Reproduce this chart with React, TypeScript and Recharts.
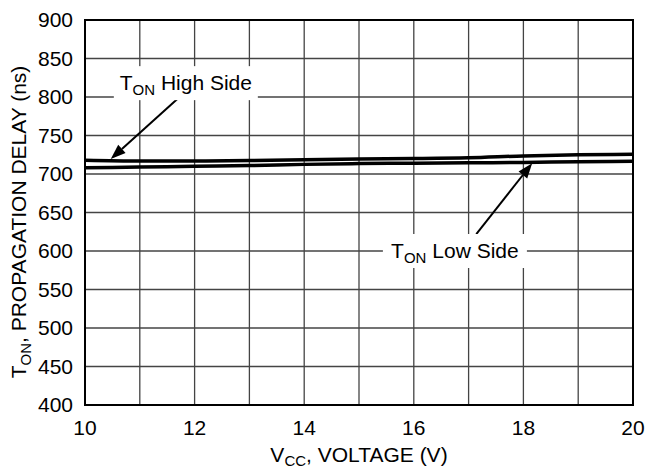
import { CartesianGrid, Line, LineChart, ReferenceArea, ReferenceDot, ReferenceLine, XAxis, YAxis } from "recharts";

const voltage = [10, 11, 12, 13, 14, 15, 16, 17, 18, 19, 20];
const highSide = [718, 717, 717, 717.5, 718.5, 719.5, 720, 721, 723.5, 725, 725.5];
const lowSide = [708, 709, 710, 711, 712.5, 713.5, 714, 714.5, 715, 716, 716.5];
const xTicks = [10, 11, 12, 13, 14, 15, 16, 17, 18, 19, 20];
const yTicks = [400, 450, 500, 550, 600, 650, 700, 750, 800, 850, 900];

const FONT = "'Liberation Sans', Arial, Helvetica, sans-serif";

const data = voltage.map((v, i) => ({ v, high: highSide[i], low: lowSide[i] }));

function Arrow(props: any) {
  const { x1, y1, x2, y2 } = props;
  const ang = Math.atan2(y2 - y1, x2 - x1);
  const len = 15;
  const half = 5.5;
  const bx = x2 - len * Math.cos(ang);
  const by = y2 - len * Math.sin(ang);
  const px = -Math.sin(ang) * half;
  const py = Math.cos(ang) * half;
  return (
    <g>
      <line x1={x1} y1={y1} x2={bx} y2={by} stroke="#000" strokeWidth={2} />
      <polygon points={`${x2},${y2} ${bx + px},${by + py} ${bx - px},${by - py}`} fill="#000" />
    </g>
  );
}

function boxLabel(rest: string, w: number) {
  return (props: any) => {
    const { cx, cy } = props;
    return (
      <g>
        <rect x={cx - w / 2} y={cy - 17} width={w} height={34} fill="#fff" />
        <text x={cx} y={cy + 7} textAnchor="middle" fontFamily={FONT} fontSize={21} fill="#000">
          <tspan>T</tspan>
          <tspan fontSize={15} dy={5}>ON</tspan>
          <tspan dy={-5}>{rest}</tspan>
        </text>
      </g>
    );
  };
}

export default function App() {
  return (
    <div style={{ position: "absolute", left: 0, top: 0 }}>
      <LineChart
        width={648}
        height={471}
        data={data}
        margin={{ top: 20, right: 15, left: 0, bottom: 0 }}
      >
        <CartesianGrid stroke="#444" strokeWidth={1.3} />
        <XAxis
          dataKey="v"
          type="number"
          domain={[10, 20]}
          ticks={xTicks}
          tickFormatter={(v) => (v % 2 === 0 ? String(v) : "")}
          height={66}
          tickSize={0}
          tickMargin={15}
          axisLine={{ stroke: "#000", strokeWidth: 2 }}
          tick={{ fill: "#000", fontSize: 21, fontFamily: FONT }}
          label={{
            content: (p: any) => {
              const vb = p.viewBox;
              return (
                <text x={vb.x + vb.width / 2} y={vb.y + 57} textAnchor="middle" fontFamily={FONT} fontSize={21} fill="#000">
                  <tspan>V</tspan>
                  <tspan fontSize={15} dy={4}>CC</tspan>
                  <tspan dy={-4}>, VOLTAGE (V)</tspan>
                </text>
              );
            },
          }}
        />
        <YAxis
          type="number"
          domain={[400, 900]}
          ticks={yTicks}
          width={85}
          tickSize={0}
          tickMargin={12}
          axisLine={{ stroke: "#000", strokeWidth: 2 }}
          tick={{ fill: "#000", fontSize: 21, fontFamily: FONT }}
          label={{
            content: () => (
              <text
                x={26}
                y={222}
                transform="rotate(-90 26 222)"
                textAnchor="middle"
                fontFamily={FONT}
                fontSize={21}
                fill="#000"
              >
                <tspan>T</tspan>
                <tspan fontSize={15} dy={5}>ON</tspan>
                <tspan dy={-5}>, PROPAGATION DELAY (ns)</tspan>
              </text>
            ),
          }}
        />
        <ReferenceArea x1={10} x2={20} y1={400} y2={900} fill="none" stroke="#000" strokeWidth={2} />
        <ReferenceDot x={11.84} y={818} r={0} shape={boxLabel(" High Side", 144)} />
        <ReferenceDot x={16.75} y={600} r={0} shape={boxLabel(" Low Side", 144)} />
        <ReferenceLine segment={[{ x: 11.68, y: 797 }, { x: 10.47, y: 719.5 }]} shape={Arrow} />
        <ReferenceLine segment={[{ x: 17.14, y: 622 }, { x: 18.16, y: 714 }]} shape={Arrow} />
        <Line type="monotone" dataKey="high" stroke="#000" strokeWidth={3.5} dot={false} isAnimationActive={false} />
        <Line type="monotone" dataKey="low" stroke="#000" strokeWidth={3.5} dot={false} isAnimationActive={false} />
      </LineChart>
    </div>
  );
}
